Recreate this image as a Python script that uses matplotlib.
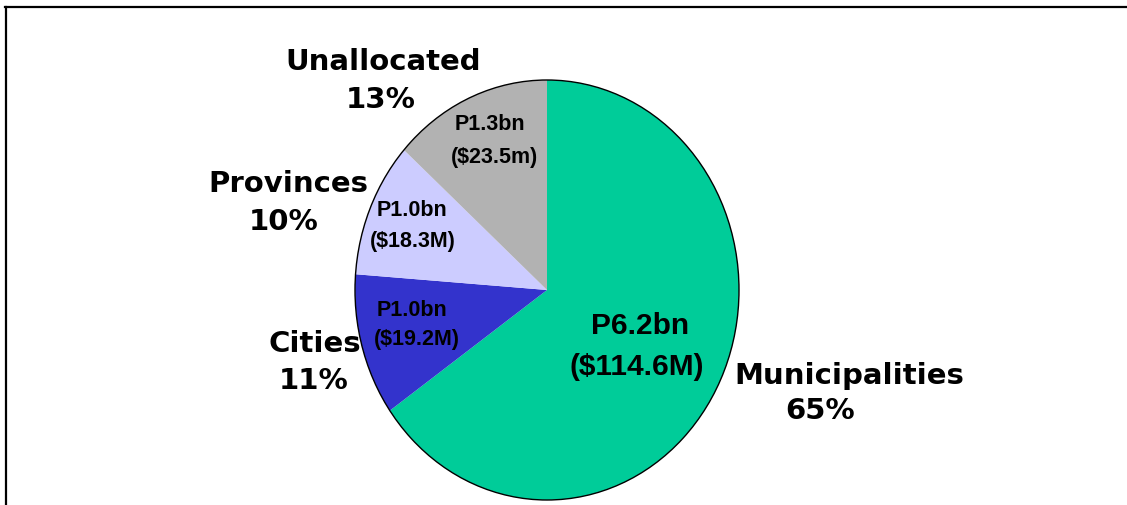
import matplotlib.pyplot as plt
from matplotlib.patches import Circle
from matplotlib.lines import Line2D

# Data
categories = ["Municipalities", "Cities", "Provinces", "Unallocated"]
usd_millions = [114.6, 19.2, 18.3, 23.5]
peso_labels = ["P6.2bn", "P1.0bn", "P1.0bn", "P1.3bn"]
usd_labels = ["($114.6M)", "($19.2M)", "($18.3M)", "($23.5m)"]
pct_labels = ["65%", "11%", "10%", "13%"]
colors = ["#00CC99", "#3333CC", "#CCCCFF", "#B2B2B2"]

W, H = 1127, 505
fig = plt.figure(figsize=(W / 100, H / 100), dpi=100)

# pie axes: bounding box of the (elliptical) pie in pixels
px0, px1, py0, py1 = 355, 739, 80, 500
pie_ax = fig.add_axes([px0 / W, 1 - py1 / H, (px1 - px0) / W, (py1 - py0) / H])
pie_ax.pie(usd_millions, colors=colors, startangle=90, counterclock=False,
           radius=1, wedgeprops=dict(linewidth=0))
pie_ax.add_patch(Circle((0, 0), 1, fill=False, ec="black", lw=1, clip_on=False))
pie_ax.set_aspect("auto")
pie_ax.set_xlim(-1, 1)
pie_ax.set_ylim(-1, 1)
pie_ax.axis("off")

# overlay axes in pixel coordinates for the labels
ax = fig.add_axes([0, 0, 1, 1], zorder=5)
ax.set_xlim(0, W)
ax.set_ylim(H, 0)
ax.axis("off")
ax.patch.set_alpha(0)

outer = dict(fontsize=21, fontweight="bold", family="DejaVu Sans",
             ha="center", va="center")
inner = dict(fontweight="bold", family="Liberation Sans",
             ha="center", va="center")

# outer category labels
ax.text(849, 376, categories[0], **outer)
ax.text(820, 411, pct_labels[0], **outer)
ax.text(315, 344, categories[1], **outer)
ax.text(314, 381, pct_labels[1], **outer)
ax.text(288, 184, categories[2], **outer)
ax.text(284, 222, pct_labels[2], **outer)
ax.text(383, 62, categories[3], **outer)
ax.text(381, 100, pct_labels[3], **outer)

# inner value labels
ax.text(640, 326, peso_labels[0], fontsize=21.5, **inner)
ax.text(637, 367, usd_labels[0], fontsize=21.5, **inner)
ax.text(412, 310, peso_labels[1], fontsize=15.5, **inner)
ax.text(417, 340, usd_labels[1], fontsize=15.5, **inner)
ax.text(412, 211, peso_labels[2], fontsize=15.5, **inner)
ax.text(413, 242, usd_labels[2], fontsize=15.5, **inner)
ax.text(490, 125, peso_labels[3], fontsize=15.5, **inner)
ax.text(494, 157, usd_labels[3], fontsize=15.5, **inner)

# frame lines (top and left visible)
fig.add_artist(Line2D([5 / W, 1], [1 - 6.5 / H, 1 - 6.5 / H], color="black", lw=1.6))
fig.add_artist(Line2D([5.5 / W, 5.5 / W], [0, 1 - 6.5 / H], color="black", lw=1.6))

fig.savefig("out.png", dpi=100)
